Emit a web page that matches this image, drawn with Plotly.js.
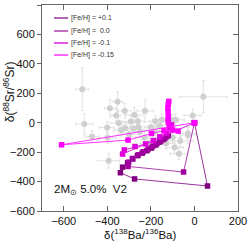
<!DOCTYPE html>
<html><head><meta charset="utf-8">
<script src="https://cdn.plot.ly/plotly-3.0.1.min.js"></script>
<style>html,body{margin:0;padding:0;background:#fff}</style>
</head><body><div id="chart" style="width:249px;height:242px"></div>
<script>
// Grain data (gray points with error bars)
const grainX  = [-515, 41, -353, -388, -359, -227, -276, -292, -8, -348, -506, -401, -336, -470, -318, -86, -102, -258, -30, -65, -91, -71, -30, -394, -399, -280, -250, -200, -180, -160, -300, -230, -150, -260, -210, -130, -100, -320, -180];
const grainY  = [228, 176, 142, 98, 49, 80, 53, 9, 49, -2, -9, -33, -51, -93, -36, 20, 16, -29, -84, -124, -169, -211, -73, -258, -102, -40, -60, -30, 10, -20, -80, -100, 20, 10, -140, -140, -100, 80, -60];
const grainEX = [30, 110, 25, 25, 20, 40, 40, 40, 40, 40, 40, 35, 35, 30, 30, 40, 30, 40, 40, 60, 40, 40, 40, 50, 40, 30, 40, 30, 30, 40, 50, 40, 40, 30, 40, 40, 40, 30, 30];
const grainEY = [145, 110, 70, 60, 50, 75, 50, 40, 45, 45, 70, 40, 40, 40, 40, 40, 40, 40, 60, 40, 40, 40, 40, 50, 40, 40, 40, 40, 40, 40, 50, 50, 40, 30, 50, 40, 40, 50, 40];

// Model series
const labels = ["[Fe/H] = +0.1", "[Fe/H] =  0.0", "[Fe/H] = -0.1", "[Fe/H] = -0.15"];
const sAx = [0, 60, -275, -340, -330, -307, -283, -262, -240, -218, -197, -178, -160, -142, -127];
const sAy = [0, -430, -382, -340, -302, -273, -247, -224, -207, -190, -172, -152, -132, -113, -95];
const sBx = [0, -50, -305, -302, -285, -258, -235, -212, -192, -172, -153, -136, -120];
const sBy = [0, -335, -297, -268, -243, -218, -197, -178, -160, -142, -123, -105, -86];
const sCx = [0, -330, -322, -273, -224, -189, -159, -129, -114, -105];
const sCy = [0, -213, -185, -162, -144, -122, -96, -69, -42, -15];
const sDx = [0, -610, -305, -197, -140, -100, -75, -115, -120, -121, -120, -121, -122, -120, -118];
const sDy = [0, -150, -118, -73, -55, -50, -57, -20, 0, 20, 40, 75, 100, 125, 145];

const xTicks = [-600, -400, -200, 0, 200];
const yTicks = [-600, -400, -200, 0, 200, 400, 600, 800];
const xTitle = 'δ(<sup>138</sup>Ba/<sup>136</sup>Ba)';
const yTitle = 'δ(<sup>88</sup>Sr/<sup>86</sup>Sr)';

const lineCols = ["#993399", "#b040b0", "#dd22dd", "#ff33ff"];
const markCols = ["#800080", "#a000a0", "#dd00dd", "#ff00ff"];
const series = [[sAx, sAy], [sBx, sBy], [sCx, sCy], [sDx, sDy]];

const traces = [{
  x: grainX, y: grainY, type: 'scatter', mode: 'markers',
  marker: {color: '#cfcfcf', size: 6},
  error_x: {type: 'data', array: grainEX, color: '#e2e2e2', thickness: 1, width: 1.5},
  error_y: {type: 'data', array: grainEY, color: '#e2e2e2', thickness: 1, width: 1.5},
  showlegend: false, hoverinfo: 'skip'
}];
series.forEach((s, i) => {
  traces.push({
    x: s[0], y: s[1], type: 'scatter', mode: 'lines+markers',
    line: {color: lineCols[i], width: 1},
    marker: {symbol: 'square', size: 5.5, color: markCols[i]},
    showlegend: false
  });
});
// dummy trace for right/top axes
traces.push({x: [0], y: [0], xaxis: 'x2', yaxis: 'y2', mode: 'markers', marker: {opacity: 0}, showlegend: false, hoverinfo: 'skip'});

const FAM = 'Liberation Sans, Arial, sans-serif';
const shapes = [];
const annotations = [];
const legY = [800 - 13 * 6.8, 800 - 26 * 6.8, 800 - 38 * 6.8, 800 - 50 * 6.8];
labels.forEach((t, i) => {
  shapes.push({type: 'line', xref: 'x', yref: 'y', x0: -645, x1: -580, y0: legY[i], y1: legY[i], line: {color: lineCols[i], width: 1.5}});
  annotations.push({xref: 'x', yref: 'y', x: -575, y: legY[i], text: t, showarrow: false, xanchor: 'left', yanchor: 'middle', font: {size: 7, color: '#333', family: FAM}});
});
annotations.push({xref: 'x', yref: 'y', x: -655, y: -460, text: '2M<sub>⊙</sub> 5.0%  V2', showarrow: false, xanchor: 'left', yanchor: 'middle', font: {size: 11.5, color: '#111', family: FAM}});
// axis titles
annotations.push({xref: 'paper', yref: 'paper', x: 0.5, y: -0.113, text: xTitle, showarrow: false, xanchor: 'center', yanchor: 'middle', font: {size: 11.5, color: '#111', family: FAM}});
annotations.push({xref: 'paper', yref: 'paper', x: -0.17, y: 0.58, text: yTitle, textangle: -90, showarrow: false, xanchor: 'center', yanchor: 'middle', font: {size: 12, color: '#111', family: FAM}});

const axFont = {size: 11, color: '#111', family: FAM};
const layout = {
  width: 249, height: 242,
  margin: {l: 42, r: 11, t: 5, b: 31},
  paper_bgcolor: '#fff', plot_bgcolor: '#fff',
  font: axFont,
  xaxis: {range: [-700, 200], tickvals: xTicks, ticks: 'inside', ticklen: 5, tickcolor: '#666',
    showline: true, linecolor: '#666', linewidth: 1, showgrid: false, zeroline: false,
    tickfont: axFont, automargin: false},
  yaxis: {range: [-600, 800], tickvals: yTicks, ticks: 'outside', ticklen: 4, tickcolor: '#666',
    showline: true, linecolor: '#666', linewidth: 1, showgrid: false, zeroline: false,
    tickfont: axFont, automargin: false},
  xaxis2: {range: [-700, 200], tickvals: xTicks, ticks: 'inside', ticklen: 5, tickcolor: '#666', showticklabels: false,
    overlaying: 'x', side: 'top', anchor: 'y', showline: true, linecolor: '#666', showgrid: false, zeroline: false},
  yaxis2: {range: [-600, 800], tickvals: yTicks, ticks: 'inside', ticklen: 5, tickcolor: '#666', showticklabels: false,
    overlaying: 'y', side: 'right', anchor: 'x', showline: true, linecolor: '#666', showgrid: false, zeroline: false},
  shapes: shapes,
  annotations: annotations,
  showlegend: false
};
Plotly.newPlot('chart', traces, layout, {staticPlot: true, displayModeBar: false});
</script>
</body></html>
